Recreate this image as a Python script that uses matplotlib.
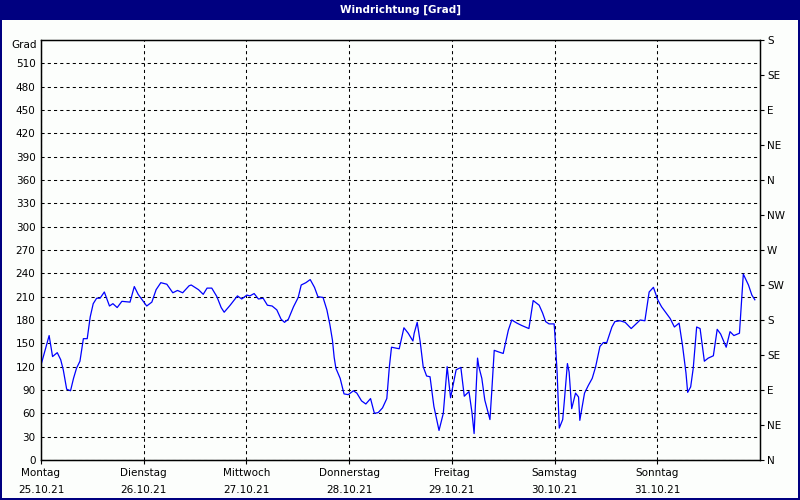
import matplotlib
matplotlib.use("Agg")
import matplotlib.pyplot as plt
from matplotlib.patches import Rectangle

# hours since Monday 00:00 and wind direction in degrees
hours = [0.0, 1.9, 2.7, 3.8, 4.6, 5.2, 6.0, 6.9, 7.6, 8.3, 9.1, 9.9, 10.8, 11.5,
         12.2, 13.0, 13.8, 14.8, 16.0, 16.8, 17.8, 18.9, 20.8, 21.8, 22.7, 24.7,
         25.9, 26.9, 28.0, 29.4, 30.8, 31.9, 33.1, 34.6, 35.1, 36.8, 37.9, 38.8,
         39.9, 41.1, 42.1, 42.8, 44.2, 45.9, 46.9, 48.1, 48.8, 49.8, 50.8, 51.9,
         52.9, 54.0, 55.1, 56.1, 56.9, 57.8, 59.0, 60.1, 60.8, 61.9, 62.9, 63.9,
         64.7, 65.9, 66.8, 67.5, 68.1, 68.5, 68.9, 69.9, 70.8, 71.8, 73.0, 73.8,
         74.9, 75.9, 77.0, 77.9, 78.8, 79.8, 80.8, 81.4, 81.9, 83.7, 84.8, 85.8,
         86.9, 87.2, 87.9, 88.6, 89.3, 90.1, 90.9, 91.8, 93.0, 94.0, 94.9, 95.7,
         97.0, 98.1, 98.9, 100.0, 100.7, 101.2, 102.0, 102.3, 103.0, 103.7, 104.9,
         105.3, 105.9, 106.9, 108.0, 109.2, 110.0, 111.2, 112.3, 114.0, 115.0,
         116.4, 117.2, 117.9, 118.7, 119.9, 120.1, 120.6, 121.1, 121.9, 122.3,
         123.0, 123.4, 124.0, 124.9, 125.6, 125.9, 127.0, 127.9, 128.8, 129.6,
         130.6, 131.4, 132.2, 133.4, 134.1, 135.3, 136.5, 137.9, 140.0, 141.1,
         142.1, 143.1, 144.1, 145.0, 147.0, 148.0, 149.1, 149.9, 150.7, 151.1,
         151.8, 152.4, 153.2, 154.0, 155.0, 155.9, 157.1, 158.0, 158.8, 160.1,
         161.0, 161.9, 163.2, 164.1, 165.3, 166.1, 166.8]
direction = [122, 160, 133, 138, 129, 116, 91, 89, 105, 118, 127, 156, 156, 184,
             201, 208, 208, 216, 198, 201, 196, 204, 203, 223, 213, 198,
             203, 219, 228, 226, 215, 218, 215, 224, 225, 219, 213, 221,
             221, 210, 196, 190, 199, 211, 207, 212, 211, 214, 207, 208,
             199, 198, 193, 181, 177, 181, 197, 209, 225, 228, 232, 222,
             210, 209, 193, 174, 154, 132, 118, 105, 85, 84, 89, 86,
             76, 72, 79, 60, 61, 67, 79, 120, 145, 143, 170, 163,
             153, 163, 177, 152, 120, 108, 107, 69, 38, 60, 120, 80,
             116, 119, 82, 88, 61, 34, 131, 120, 105, 77, 52,
             86, 141, 139, 137, 167, 180, 176, 173, 169, 205,
             199, 189, 178, 175, 175, 159, 112, 41, 52, 77,
             124, 113, 66, 86, 81, 51, 86, 96, 105, 120,
             146, 151, 151, 171, 178, 179, 177, 169, 180, 179,
             216, 222, 206, 197, 182, 171, 176, 147, 112, 87,
             94, 118, 171, 169, 127, 131, 134, 168, 162, 145,
             165, 160, 163, 239, 225, 212, 206]

day_names = ["Montag", "Dienstag", "Mittwoch", "Donnerstag", "Freitag", "Samstag", "Sonntag"]
day_dates = ["25.10.21", "26.10.21", "27.10.21", "28.10.21", "29.10.21", "30.10.21", "31.10.21"]
left_ticks = list(range(0, 540, 30))
compass = ["N", "NE", "E", "SE", "S", "SW", "W", "NW", "N", "NE", "E", "SE", "S"]

navy = "#000080"
fs = 7.5

fig = plt.figure(figsize=(8, 5), dpi=100)
fig.patch.set_facecolor(navy)
fig.patches.append(Rectangle((2 / 800, 2 / 500), 796 / 800, 478 / 500,
                             transform=fig.transFigure, facecolor="#fcfefc",
                             edgecolor="none", zorder=-10))
fig.text(0.5, 1 - 10 / 500, "Windrichtung [Grad]", color="white", ha="center",
         va="center", fontsize=7.5, fontweight="bold", family="DejaVu Sans")

ax = fig.add_axes([41 / 800, 40 / 500, 719 / 800, 420 / 500], zorder=2)
ax.set_facecolor("none")
ax.plot(hours, direction, color="#0000ff", linewidth=0.9, zorder=3)

ax.set_xlim(0, 168)
ax.set_ylim(0, 540)
ax.set_yticks(left_ticks)
ax.set_yticklabels([str(v) for v in left_ticks], fontsize=fs)
ax.set_xticks([24 * i for i in range(7)])
ax.set_xticklabels([n + "\n" + d for n, d in zip(day_names, day_dates)],
                   fontsize=fs, linespacing=1.8)
ax.tick_params(axis="y", length=0, pad=4)
ax.tick_params(axis="x", length=3, width=0.8, pad=3)
ax.grid(True, color="black", linestyle=(0, (3, 3)), linewidth=0.75)
for s in ax.spines.values():
    s.set_linewidth(1.0)
    s.set_color("black")
ax.text(-0.006, 533, "Grad", transform=ax.get_yaxis_transform(), ha="right",
        va="center", fontsize=fs)

ax2 = ax.twinx()
ax2.set_ylim(0, 540)
ax2.set_yticks(list(range(0, 541, 45)))
ax2.set_yticklabels(compass, fontsize=fs)
ax2.tick_params(axis="y", length=3, width=0.8, pad=2)

fig.savefig("out.png", dpi=100, facecolor=fig.get_facecolor())
